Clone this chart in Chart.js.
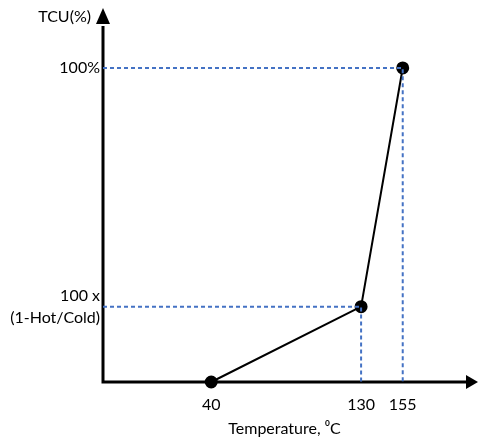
<!DOCTYPE html>
<html><head><meta charset="utf-8">
<script src="https://cdn.jsdelivr.net/npm/chart.js@4"></script>
<style>html,body{margin:0;padding:0;background:#fff}#w{width:478px;height:438px}</style>
</head><body><div id="w"><canvas id="c"></canvas></div>
<script>
const temps = [40, 130, 155];
const tcu = [0, 24, 100];
const xTickValues = [40, 130, 155];
const yTickValues = [24, 100];
const yTickLabels = [['100 x', '(1-Hot/Cold)'], '100%'];
const xTitle = 'Temperature, \u2070C';
const yTitle = 'TCU(%)';
const X_MIN = -25, X_MAX = 193, Y_MIN = 0, Y_MAX = 114;

const FONT = 'Lato, "DejaVu Sans", sans-serif';
const curve = temps.map((t, i) => ({x: t, y: tcu[i]}));
const guide1 = [{x: X_MIN, y: tcu[1]}, {x: temps[1], y: tcu[1]}, {x: temps[1], y: Y_MIN}];
const guide2 = [{x: X_MIN, y: tcu[2]}, {x: temps[2], y: tcu[2]}, {x: temps[2], y: Y_MIN}];

const axesPlugin = {
  id: 'axesArrows',
  beforeDatasetsDraw(chart) {
    const {ctx, chartArea: a} = chart;
    ctx.save();
    ctx.strokeStyle = '#000'; ctx.fillStyle = '#000'; ctx.lineWidth = 3;
    ctx.beginPath();
    ctx.moveTo(a.left, a.top + 2); ctx.lineTo(a.left, a.bottom);
    ctx.lineTo(a.right + 2, a.bottom);
    ctx.stroke();
    ctx.beginPath();
    ctx.moveTo(a.right, a.bottom - 7); ctx.lineTo(a.right + 12, a.bottom); ctx.lineTo(a.right, a.bottom + 7);
    ctx.closePath(); ctx.fill();
    ctx.beginPath();
    ctx.moveTo(a.left - 7, a.top); ctx.lineTo(a.left, a.top - 16); ctx.lineTo(a.left + 7, a.top);
    ctx.closePath(); ctx.fill();
    ctx.font = '16px ' + FONT;
    ctx.textAlign = 'right'; ctx.textBaseline = 'middle';
    ctx.fillText(yTitle, a.left - 12, a.top - 7);
    ctx.restore();
  }
};

new Chart(document.getElementById('c'), {
  type: 'scatter',
  data: {
    datasets: [
      {data: guide2, showLine: true, clip: false, borderColor: '#4472C4', borderWidth: 2, borderDash: [4, 3], pointRadius: 0, fill: false},
      {data: guide1, showLine: true, clip: false, borderColor: '#4472C4', borderWidth: 2, borderDash: [4, 3], pointRadius: 0, fill: false},
      {data: curve, showLine: true, clip: false, borderColor: '#000', borderWidth: 2, pointRadius: 5.5, pointBackgroundColor: '#000', pointBorderColor: '#000', fill: false}
    ]
  },
  options: {
    responsive: true, maintainAspectRatio: false, animation: false,
    layout: {padding: {top: 24, right: 12, bottom: 0, left: 0}},
    plugins: {legend: {display: false}, tooltip: {enabled: false}},
    scales: {
      x: {
        type: 'linear', min: X_MIN, max: X_MAX,
        grid: {display: false, drawTicks: false}, border: {display: false},
        afterBuildTicks: s => { s.ticks = xTickValues.map(v => ({value: v})); },
        ticks: {color: '#000', font: {family: FONT, size: 16}, padding: 13, autoSkip: false, maxRotation: 0},
        title: {display: true, text: xTitle, color: '#000', font: {family: FONT, size: 16}, padding: {top: 3, bottom: 0}},
        afterFit: s => { s.height = 56; }
      },
      y: {
        type: 'linear', min: Y_MIN, max: Y_MAX,
        grid: {display: false, drawTicks: false}, border: {display: false},
        afterBuildTicks: s => { s.ticks = yTickValues.map(v => ({value: v})); },
        ticks: {
          color: '#000', font: {family: FONT, size: 16, lineHeight: 1.4}, padding: 3, crossAlign: 'near', autoSkip: false,
          callback: v => yTickLabels[yTickValues.indexOf(v)]
        },
        afterFit: s => { s.width = 103; }
      }
    }
  },
  plugins: [axesPlugin]
});
</script></body></html>
